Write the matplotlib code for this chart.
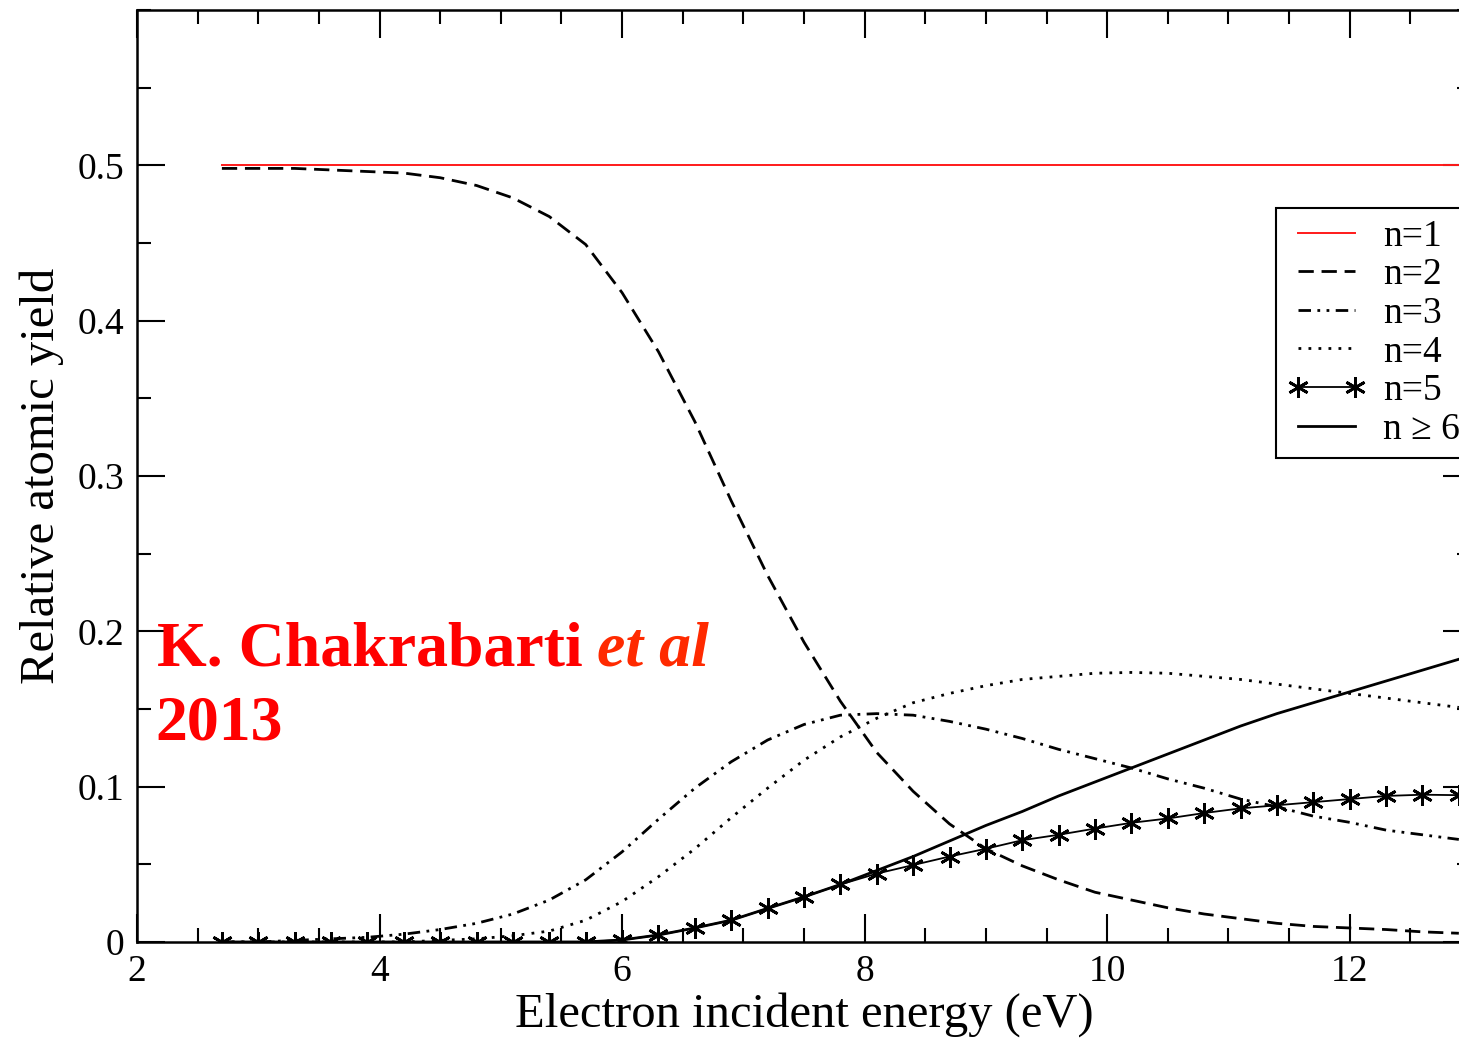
import numpy as np
import matplotlib.pyplot as plt
from matplotlib.ticker import MultipleLocator

energy = [2.7, 3.0, 3.3, 3.6, 3.9, 4.2, 4.5, 4.8, 5.1, 5.4, 5.7, 6.0,
          6.3, 6.6, 6.9, 7.2, 7.5, 7.8, 8.1, 8.4, 8.7, 9.0, 9.3, 9.6,
          9.9, 10.2, 10.5, 10.8, 11.1, 11.4, 11.7, 12.0, 12.3, 12.6, 12.9]

n1 = [0.5] * 35
n2 = [0.498, 0.498, 0.498, 0.497, 0.496, 0.495, 0.492, 0.487, 0.479, 0.467,
      0.449, 0.418, 0.380, 0.335, 0.284, 0.236, 0.193, 0.155, 0.122, 0.097,
      0.076, 0.060, 0.049, 0.040, 0.032, 0.027, 0.022, 0.018, 0.015, 0.012,
      0.010, 0.009, 0.008, 0.0065, 0.0056]
n3 = [0.000, 0.000, 0.001, 0.002, 0.003, 0.005, 0.008, 0.012, 0.018, 0.027,
      0.040, 0.058, 0.079, 0.099, 0.116, 0.130, 0.140, 0.146, 0.147, 0.146,
      0.142, 0.137, 0.131, 0.124, 0.118, 0.112, 0.105, 0.099, 0.092, 0.087,
      0.081, 0.077, 0.072, 0.069, 0.066]
n4 = [0.000, 0.000, 0.000, 0.000, 0.000, 0.000, 0.001, 0.002, 0.004, 0.007,
      0.014, 0.026, 0.042, 0.060, 0.080, 0.099, 0.117, 0.132, 0.144, 0.154,
      0.160, 0.165, 0.169, 0.171, 0.173, 0.1735, 0.173, 0.171, 0.169, 0.166,
      0.163, 0.160, 0.157, 0.154, 0.151]
n5 = [0.000, 0.000, 0.000, 0.000, 0.000, 0.000, 0.000, 0.000, 0.000, 0.000,
      0.000, 0.0013, 0.0045, 0.009, 0.014, 0.0216, 0.029, 0.037, 0.044, 0.0495,
      0.055, 0.060, 0.0655, 0.069, 0.073, 0.0767, 0.0795, 0.083, 0.086, 0.088,
      0.090, 0.092, 0.094, 0.0948, 0.0945]
n6 = [0.000, 0.000, 0.000, 0.000, 0.000, 0.000, 0.000, 0.000, 0.000, 0.000,
      0.000, 0.0013, 0.0045, 0.009, 0.014, 0.0216, 0.029, 0.037, 0.046, 0.055,
      0.065, 0.075, 0.084, 0.094, 0.103, 0.112, 0.121, 0.130, 0.139, 0.147,
      0.154, 0.161, 0.168, 0.175, 0.182]

labels = ["n=1", "n=2", "n=3", "n=4", "n=5", "n \u2265 6"]
xticks = [2, 4, 6, 8, 10, 12]
yticks = [0, 0.1, 0.2, 0.3, 0.4, 0.5]
yticklabels = ["0", "0.1", "0.2", "0.3", "0.4", "0.5"]

plt.rcParams['font.family'] = ['Liberation Serif', 'DejaVu Serif']

fig = plt.figure(figsize=(14.59, 10.39), dpi=100)
# the original figure is cropped on the right, so the axes run a bit past the edge
ax = fig.add_axes([0.0939, 0.0934, 0.9143, 0.8970])

lw = 2.0
ax.plot(energy, n1, color='#ff1a1a', lw=1.4, label=labels[0])
ax.plot(energy, n2, color='black', lw=lw, dashes=(5.5, 2.8), label=labels[1])
ax.plot(energy, n3, color='black', lw=lw, dashes=(4.5, 2.3, 1, 2.3, 1, 2.3), label=labels[2])
ax.plot(energy, n4, color='black', lw=lw, dashes=(1, 2.6), label=labels[3])
ax.plot(energy, n5, color='black', lw=1.3, marker=(6, 2, 0), ms=15, mew=2.0, label=labels[4])
ax.plot(energy, n6, color='black', lw=lw, label=labels[5])

ax.set_xlim(2, 13)
ax.set_ylim(0, 0.6)
ax.set_xticks(xticks)
ax.xaxis.set_minor_locator(MultipleLocator(0.5))
ax.set_yticks(yticks)
ax.set_yticklabels(yticklabels)
ax.yaxis.set_minor_locator(MultipleLocator(0.05))
ax.tick_params(which='both', direction='in', top=True, right=True, width=1.5, labelsize=27)
ax.tick_params(which='major', length=20, pad=9)
ax.tick_params(which='minor', length=10)
for s in ax.spines.values():
    s.set_linewidth(1.8)

ax.set_xlabel("Electron incident energy (eV)", fontsize=35, labelpad=2)
ax.set_ylabel("Relative atomic yield", fontsize=35, labelpad=10)

leg = ax.legend(loc='upper left', bbox_to_anchor=(0.8538, 0.7876), borderaxespad=0,
                fontsize=27, frameon=True, fancybox=False, edgecolor='black',
                framealpha=1, numpoints=2, handlelength=2.1, handletextpad=0.45,
                labelspacing=0.11, borderpad=0.3)
leg.get_frame().set_linewidth(1.5)
leg.set_zorder(10)

fig.text(157 / 1459, 1 - 665 / 1039, "K. Chakrabarti", color='#ff0000',
         fontsize=46, fontweight='bold', ha='left', va='baseline')
fig.text(597 / 1459, 1 - 665 / 1039, "et al", color='#ff2a00',
         fontsize=46, fontweight='bold', style='italic', ha='left', va='baseline')
fig.text(155 / 1459, 1 - 740 / 1039, "2013", color='#ff0000',
         fontsize=46, fontweight='bold', ha='left', va='baseline')

fig.savefig("out.png", dpi=100)
